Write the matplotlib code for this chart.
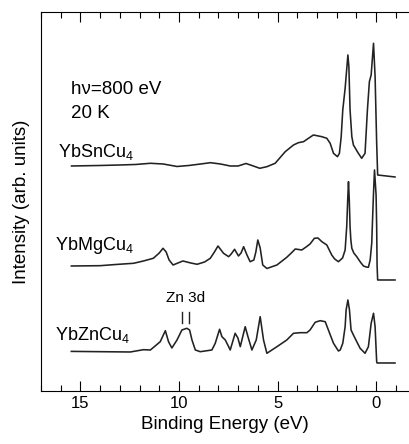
import numpy as np
import matplotlib
matplotlib.use("Agg")
import matplotlib.pyplot as plt
from matplotlib.ticker import MultipleLocator

plt.rcParams["font.family"] = ["Liberation Sans", "DejaVu Sans"]
plt.rcParams["mathtext.fontset"] = "custom"
plt.rcParams["mathtext.rm"] = "Liberation Sans"
plt.rcParams["mathtext.it"] = "Liberation Sans:italic"

# binding energy (eV) and intensity (arb.) for each compound
sn_energy = [-0.96, -0.08, -0.03, 0.05, 0.13, 0.25, 0.34, 0.44, 0.56, 0.73,
             0.9, 1.15, 1.23, 1.32, 1.38, 1.43, 1.57, 1.69, 1.77, 1.86, 1.96,
             2.16, 2.33, 2.5, 2.75, 3.18, 3.43, 3.68, 3.94, 4.19, 4.61, 5.12,
             5.54, 5.9, 6.3, 6.6, 7.0, 7.4, 7.9, 8.4, 8.9, 9.5, 10.1, 10.8,
             11.45, 12.2, 13.0, 14.0, 15.45]
sn_int = [0, 2, 33.7, 100.3, 133.7, 102, 95.3, 67, 23.7, 18.7,
          23.7, 32, 40.3, 67, 110.3, 122, 88.7, 67, 40.3, 23.7, 20.3,
          23.7, 33.7, 38.7, 40.3, 42, 38.7, 35.3, 34.3, 32, 25.3, 13.7,
          10.3, 8.7, 11.5, 13.5, 11, 11, 13, 14.3, 13, 11.5, 10.5, 13,
          13.7, 12.5, 12, 11.5, 11]

mg_energy = [-0.96, -0.08, -0.05, -0.03, 0.0, 0.08, 0.13, 0.18, 0.22, 0.3,
             0.39, 0.5, 0.64, 0.8, 0.98, 1.13, 1.23, 1.28, 1.32, 1.36, 1.4,
             1.44, 1.49, 1.57, 1.7, 1.91, 2.1, 2.25, 2.5, 2.75, 2.95, 3.13,
             3.35, 3.55, 3.77, 4.1, 4.3, 4.53, 5.03, 5.54, 5.75, 5.88, 6.0,
             6.1, 6.2, 6.39, 6.55, 6.72, 6.85, 6.98, 7.18, 7.35, 7.48, 7.74,
             8.02, 8.2, 8.41, 8.7, 9.08, 9.4, 9.8, 10.05, 10.3, 10.5, 10.65,
             10.81, 11.0, 11.3, 11.8, 12.3, 13.2, 14.0, 15.46]
mg_int = [0, 0, 15, 53.3, 85, 110, 87, 60, 37, 20,
          12.7, 13, 14, 18, 23.3, 27, 31.7, 40, 53.3, 80, 98.3,
          80, 53.3, 30, 22, 18.3, 21, 25, 35, 38.3, 42, 41.7,
          36, 33, 30, 31, 27, 22.7, 15, 11.5, 15, 32, 40,
          28, 20, 18.3, 25, 33.3, 27, 24, 30.7, 26, 23.3, 26.7,
          34, 28, 21.7, 18, 15.7, 17, 19, 17, 15, 20, 28,
          31.7, 27, 21.7, 19, 16.7, 15.5, 14.3, 14]

zn_energy = [-0.96, -0.05, -0.03, 0.05, 0.13, 0.25, 0.39, 0.56, 0.81, 0.98,
             1.15, 1.27, 1.35, 1.43, 1.52, 1.57, 1.69, 1.82, 1.91, 2.16, 2.42,
             2.58, 2.84, 3.09, 3.35, 3.51, 3.85, 4.19, 4.53, 5.03, 5.54, 5.71,
             5.88, 6.08, 6.3, 6.5, 6.64, 6.89, 7.01, 7.15, 7.4, 7.48, 7.65,
             7.82, 7.94, 8.16, 8.33, 8.92, 9.17, 9.34, 9.46, 9.6, 9.85, 10.1,
             10.36, 10.53, 10.69, 10.95, 11.45, 11.8, 12.47, 14.0, 15.46]
zn_int = [0, 0, 1.3, 36.3, 49.7, 39.7, 16.3, 9.7, 14.7, 21.3,
          28, 33, 53, 63, 53, 36.3, 19.7, 13, 12, 19.7, 33,
          41.3, 42.3, 40.7, 33, 30.3, 30.3, 29.7, 23, 16.3, 9.7, 23,
          46.3, 23, 13, 26.3, 36.3, 16.3, 25, 29.7, 13, 16.3, 23,
          26.3, 33.7, 19.7, 13, 11.3, 13, 23, 33, 34.7, 33, 23,
          15, 21.3, 32.3, 21.3, 13, 13.3, 11, 11.3, 11.6]

# vertical offsets of the stacked spectra
offsets = {"sn": 214, "mg": 111, "zn": 28}
zn3d_positions = [9.85, 9.51]

fig = plt.figure(figsize=(4.09, 4.44), dpi=100)
ax = fig.add_axes([0.1002, 0.1194, 0.8998, 0.8536])

for e, i, key in ((sn_energy, sn_int, "sn"), (mg_energy, mg_int, "mg"),
                  (zn_energy, zn_int, "zn")):
    ax.plot(e, np.asarray(i) + offsets[key], color="#222222", lw=1.15,
            solid_joinstyle="round")

for e in zn3d_positions:
    ax.plot([e, e], [67.7, 79.3], color="#222222", lw=1.0)
ax.text(9.68, 93, "Zn 3d", fontsize=11, ha="center", va="center")

ax.text(15.46, 296.7, "h\u03bd=800 eV", fontsize=13.5, ha="left",
        va="baseline")
ax.text(15.46, 272.7, "20 K", fontsize=13.5, ha="left", va="baseline")
ax.text(16.12, 234, r"YbSnCu$_4$", fontsize=13, ha="left", va="baseline")
ax.text(16.3, 141, r"YbMgCu$_4$", fontsize=13, ha="left", va="baseline")
ax.text(16.3, 51, r"YbZnCu$_4$", fontsize=13, ha="left", va="baseline")

ax.set_xlim(17.0, -1.67)
ax.set_ylim(0, 379)
ax.xaxis.set_major_locator(MultipleLocator(5))
ax.xaxis.set_minor_locator(MultipleLocator(1))
ax.tick_params(axis="x", which="both", direction="in", top=True,
               labelsize=12)
ax.tick_params(axis="x", which="major", length=7, width=0.8)
ax.tick_params(axis="x", which="minor", length=4, width=0.8)
ax.set_yticks([])
ax.spines["right"].set_visible(False)
for s in ("left", "top", "bottom"):
    ax.spines[s].set_linewidth(0.8)

ax.set_xlabel("Binding Energy (eV)", fontsize=13.5)
ax.set_ylabel("Intensity (arb. units)", fontsize=13.5, labelpad=8)

fig.savefig("out.png", dpi=100)
